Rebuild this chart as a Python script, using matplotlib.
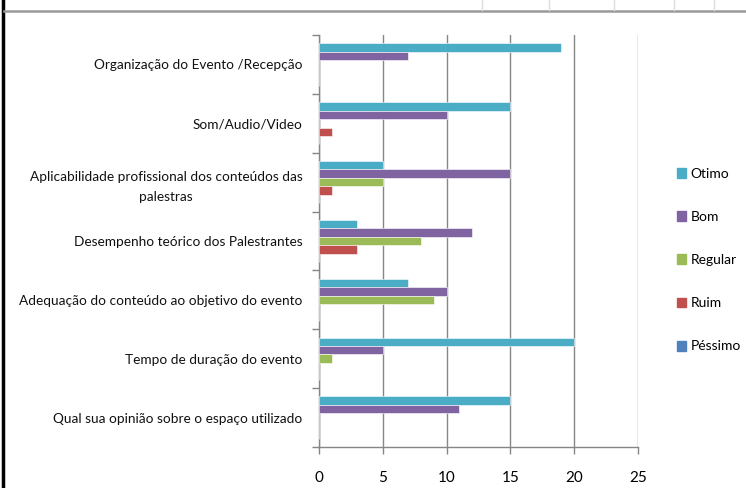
import numpy as np
import matplotlib.pyplot as plt
from matplotlib.lines import Line2D

plt.rcParams['font.family'] = ['Lato', 'DejaVu Sans']

categorias = [
	'Organização do Evento /Recepção',
	'Som/Audio/Video',
	'Aplicabilidade profissional dos conteúdos das\npalestras',
	'Desempenho teórico dos Palestrantes',
	'Adequação do conteúdo ao objetivo do evento',
	'Tempo de duração do evento',
	'Qual sua opinião sobre o espaço utilizado',
]
series = ['Otimo', 'Bom', 'Regular', 'Ruim', 'Péssimo']
otimo = [19, 15, 5, 3, 7, 20, 15]
bom = [7, 10, 15, 12, 10, 5, 11]
regular = [0, 0, 5, 8, 9, 1, 0]
ruim = [0, 1, 1, 3, 0, 0, 0]
pessimo = [0, 0, 0, 0, 0, 0, 0]
cores = ['#4BACC6', '#8064A2', '#9BBB59', '#C0504D', '#4F81BD']
x_ticks = [0, 5, 10, 15, 20, 25]

valores = [otimo, bom, regular, ruim, pessimo]

fig = plt.figure(figsize=(7.46, 4.88), dpi=100)
ax = fig.add_axes([319/746, 1 - 447/488, 319/746, 412/488])

pos = np.arange(len(categorias))
h = 0.144
for j, (nome, vals, cor) in enumerate(zip(series, valores, cores)):
	ax.barh(pos + (j - 2) * h, vals, height=h, color=cor, label=nome,
		edgecolor='white', linewidth=0.4, zorder=3)

ax.set_ylim(len(categorias) - 0.5, -0.5)
ax.set_xlim(0, 25)
ax.set_xticks(x_ticks)
ax.set_yticks(pos)
ax.set_yticklabels(categorias, fontsize=9.8, multialignment='center', color='#111111',
	linespacing=1.75)
ax.set_yticks(np.arange(len(categorias) + 1) - 0.5, minor=True)
ax.tick_params(axis='y', which='major', length=0, pad=12)
ax.tick_params(axis='y', which='minor', length=5, color='#868686', width=1)
ax.tick_params(axis='x', length=5, color='#868686', width=1, pad=12, labelsize=11)

ax.grid(axis='x', color='#868686', linewidth=1, zorder=0)
for s in ['top', 'right']:
	ax.spines[s].set_visible(False)
for s in ['left', 'bottom']:
	ax.spines[s].set_color('#868686')
	ax.spines[s].set_linewidth(1)

# legende a droite
handles = [plt.Rectangle((0, 0), 1, 1, color=c) for c in cores]
leg = fig.legend(handles, series, loc='upper left', bbox_to_anchor=(664/746, 1 - 155/488),
	frameon=False, fontsize=10, handlelength=0.7, handleheight=0.7,
	handletextpad=0.3, labelspacing=2.25)

# cadre de la feuille excel
fig.add_artist(Line2D([3/746, 3/746], [0, 1], color='black', linewidth=2.5))
fig.add_artist(Line2D([4/746, 1], [1 - 11/488, 1 - 11/488], color='#999999', linewidth=1.8))
for xc in [482, 549, 614, 674, 714]:
	fig.add_artist(Line2D([xc/746, xc/746], [1 - 10/488, 1], color='#dddddd', linewidth=1))

fig.savefig('out.png', dpi=100)
